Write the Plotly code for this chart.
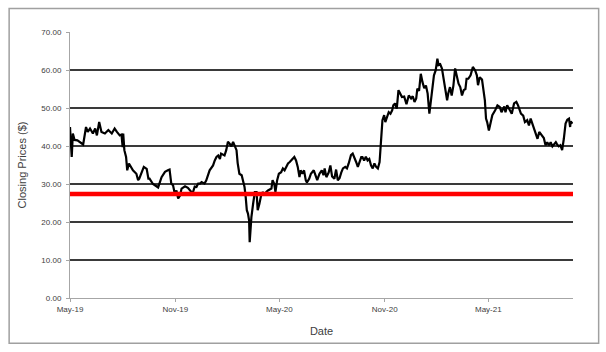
import plotly.graph_objects as go

dates = [
 "2019-05-01","2019-05-04","2019-05-06","2019-05-09","2019-05-14","2019-05-19","2019-05-24","2019-05-29",
 "2019-06-01","2019-06-05","2019-06-10","2019-06-14","2019-06-17","2019-06-21","2019-06-25","2019-07-01",
 "2019-07-07","2019-07-13","2019-07-18","2019-07-22","2019-07-27","2019-07-30","2019-08-01","2019-08-02",
 "2019-08-04","2019-08-07","2019-08-09","2019-08-12","2019-08-15","2019-08-19","2019-08-25","2019-08-28",
 "2019-08-30","2019-09-03","2019-09-07","2019-09-12","2019-09-15","2019-09-17","2019-09-23","2019-09-29",
 "2019-10-02","2019-10-08","2019-10-14","2019-10-19","2019-10-22","2019-10-25","2019-10-28","2019-10-31",
 "2019-11-03","2019-11-06","2019-11-09","2019-11-12","2019-11-15","2019-11-18","2019-11-23","2019-11-29",
 "2019-12-02","2019-12-05","2019-12-08","2019-12-11","2019-12-14","2019-12-17","2019-12-22","2019-12-25",
 "2019-12-31","2020-01-06","2020-01-09","2020-01-12","2020-01-15","2020-01-18","2020-01-20","2020-01-26",
 "2020-01-29","2020-02-01","2020-02-04","2020-02-07","2020-02-10","2020-02-13","2020-02-16","2020-02-18",
 "2020-02-20","2020-02-21","2020-02-25","2020-02-27","2020-03-01","2020-03-03","2020-03-05","2020-03-07",
 "2020-03-09","2020-03-10","2020-03-13","2020-03-16","2020-03-19","2020-03-22","2020-03-24","2020-03-27",
 "2020-03-30","2020-04-02","2020-04-05","2020-04-08","2020-04-11","2020-04-17","2020-04-19","2020-04-22",
 "2020-04-24","2020-04-27","2020-04-30","2020-05-04","2020-05-07","2020-05-10","2020-05-13","2020-05-16",
 "2020-05-19","2020-05-22","2020-05-24","2020-05-27","2020-05-30","2020-06-02","2020-06-05","2020-06-07",
 "2020-06-10","2020-06-13","2020-06-16","2020-06-18","2020-06-22","2020-06-25","2020-06-30","2020-07-03",
 "2020-07-06","2020-07-10","2020-07-14","2020-07-17","2020-07-19","2020-07-22","2020-07-26","2020-07-29",
 "2020-08-01","2020-08-05","2020-08-08","2020-08-11","2020-08-14","2020-08-17","2020-08-20","2020-08-24",
 "2020-08-27","2020-08-30","2020-09-03","2020-09-06","2020-09-09","2020-09-12","2020-09-15","2020-09-18",
 "2020-09-21","2020-09-23","2020-09-26","2020-09-29","2020-10-02","2020-10-05","2020-10-08","2020-10-11",
 "2020-10-14","2020-10-17","2020-10-20","2020-10-23","2020-10-24","2020-10-26","2020-10-28","2020-10-31",
 "2020-11-02","2020-11-05","2020-11-08","2020-11-11","2020-11-14","2020-11-16","2020-11-19","2020-11-22",
 "2020-11-25","2020-11-28","2020-12-01","2020-12-05","2020-12-09","2020-12-13","2020-12-17","2020-12-20",
 "2020-12-23","2020-12-26","2020-12-28","2020-12-31","2021-01-03","2021-01-06","2021-01-09","2021-01-12",
 "2021-01-15","2021-01-18","2021-01-21","2021-01-23","2021-01-26","2021-01-29","2021-02-01","2021-02-03",
 "2021-02-06","2021-02-09","2021-02-12","2021-02-15","2021-02-18","2021-02-20","2021-02-23","2021-02-26",
 "2021-03-01","2021-03-04","2021-03-07","2021-03-10","2021-03-13","2021-03-16","2021-03-19","2021-03-22",
 "2021-03-24","2021-03-27","2021-03-31","2021-04-04","2021-04-08","2021-04-11","2021-04-13","2021-04-16",
 "2021-04-20","2021-04-22","2021-04-25","2021-04-27","2021-04-29","2021-05-02","2021-05-05","2021-05-08",
 "2021-05-13","2021-05-17","2021-05-21","2021-05-24","2021-05-29","2021-05-31","2021-06-03","2021-06-07",
 "2021-06-11","2021-06-15","2021-06-19","2021-06-22","2021-06-27","2021-07-01","2021-07-04","2021-07-08",
 "2021-07-11","2021-07-14","2021-07-17","2021-07-20","2021-07-23","2021-07-26","2021-07-29","2021-07-31",
 "2021-08-03","2021-08-06","2021-08-09","2021-08-12","2021-08-15","2021-08-18","2021-08-21","2021-08-24",
 "2021-08-27","2021-08-29","2021-09-01","2021-09-04","2021-09-07","2021-09-10","2021-09-13","2021-09-16",
 "2021-09-19","2021-09-21","2021-09-22","2021-09-25",
]

closing_prices = [
 45.0,37.1,43.3,41.6,41.5,41.0,40.4,45.0,
 43.7,44.6,43.3,44.6,42.8,46.3,43.7,43.3,
 44.2,43.3,44.6,43.7,42.8,43.0,39.7,43.3,
 38.9,37.1,33.6,35.4,34.5,33.6,32.7,31.0,
 31.4,33.1,34.5,34.0,31.4,31.4,30.0,29.4,
 29.1,31.8,33.2,33.6,33.8,30.1,29.7,27.5,
 28.3,26.2,26.9,28.8,29.2,29.4,29.0,27.9,
 27.9,29.3,29.2,30.1,30.1,30.5,30.1,30.9,
 33.6,34.9,36.2,37.1,37.5,36.6,38.0,37.5,
 38.9,41.1,40.6,39.9,41.1,40.2,38.9,35.5,
 33.1,32.7,32.3,31.0,29.2,26.6,23.1,22.2,
 20.4,14.7,21.3,24.8,27.9,27.9,23.1,24.8,
 27.0,27.9,27.0,27.9,28.3,28.8,31.0,30.0,
 27.9,31.0,32.7,33.1,34.1,33.6,34.5,35.4,
 35.8,36.2,36.6,37.1,36.2,34.5,31.8,33.6,
 32.7,33.6,31.0,30.4,31.4,32.7,33.6,32.3,
 31.0,32.7,33.6,32.3,34.1,31.8,33.0,34.9,
 32.0,31.4,33.8,31.0,31.5,33.0,34.1,34.5,
 34.1,35.4,37.6,38.0,37.1,35.8,34.5,35.8,
 37.1,37.1,36.2,37.2,36.2,36.6,34.9,34.1,
 35.4,34.5,34.1,35.8,38.9,42.4,46.8,48.1,
 46.3,47.5,48.9,48.5,49.4,50.7,51.2,49.8,
 54.7,53.8,52.9,53.0,51.0,53.3,52.5,53.1,
 51.6,52.5,55.1,54.5,59.0,56.8,55.2,55.9,
 53.8,48.5,52.0,55.5,58.6,59.9,63.0,61.3,
 61.5,60.4,57.3,54.7,52.0,53.8,55.5,53.3,
 55.9,60.4,58.6,56.4,55.5,53.3,54.7,55.0,
 57.7,57.7,58.6,60.8,59.9,58.6,56.0,58.1,
 57.5,55.1,52.0,47.2,46.3,44.1,46.3,48.1,
 49.4,50.7,50.3,48.9,50.4,48.9,50.7,49.4,
 48.5,51.2,51.6,50.7,48.5,48.0,46.3,46.8,
 45.4,47.2,45.9,45.0,43.7,41.9,43.7,43.3,
 42.8,42.1,40.2,41.0,40.2,41.0,39.9,40.5,
 41.0,40.5,39.9,40.2,38.9,41.9,45.9,46.9,
 47.2,45.0,46.5,45.9,
]

reference_level = 27.4
x_range = ["2019-05-01", "2021-09-26"]
y_ticks = [0, 10, 20, 30, 40, 50, 60, 70]

FONT = "Liberation Sans"

fig = go.Figure()
fig.add_trace(go.Scatter(
    x=dates, y=closing_prices, mode="lines",
    line=dict(color="black", width=2.2), showlegend=False, hoverinfo="x+y",
))
fig.add_trace(go.Scatter(
    x=x_range, y=[reference_level, reference_level], mode="lines",
    line=dict(color="#ff0000", width=4.5), showlegend=False,
))

fig.update_layout(
    width=606, height=352,
    margin=dict(l=70, r=33, t=32, b=54),
    paper_bgcolor="white", plot_bgcolor="white",
    font=dict(family=FONT, color="#404040"),
    xaxis=dict(
        type="date", range=x_range, tick0="2019-05-01", dtick="M6",
        tickformat="%b-%y", tickfont=dict(size=8, color="#404040"),
        showgrid=False, zeroline=False,
        showline=True, linecolor="#a6a6a6", linewidth=1,
        ticks="outside", ticklen=3, tickcolor="#a6a6a6",
        title=dict(text="Date", font=dict(size=11, color="#404040"), standoff=14),
    ),
    yaxis=dict(
        range=[0, 70], tickvals=y_ticks, tickformat=".2f",
        tickfont=dict(size=8, color="#404040"),
        ticklabelstandoff=3,
        showgrid=True, gridcolor="#3a3a3a", gridwidth=1.6,
        zeroline=False, showline=True, linecolor="#a6a6a6", linewidth=1,
        ticks="outside", ticklen=3, tickcolor="#a6a6a6",
        title=dict(text="Closing Prices ($)", font=dict(size=11, color="#404040"), standoff=12),
    ),
    shapes=[dict(
        type="rect", xref="paper", yref="paper",
        x0=-0.121, x1=1.051, y0=-0.17, y1=1.088,
        line=dict(color="#a0a0a0", width=1.5), fillcolor="rgba(0,0,0,0)", layer="below",
    )],
)

fig.write_html("out.html")
